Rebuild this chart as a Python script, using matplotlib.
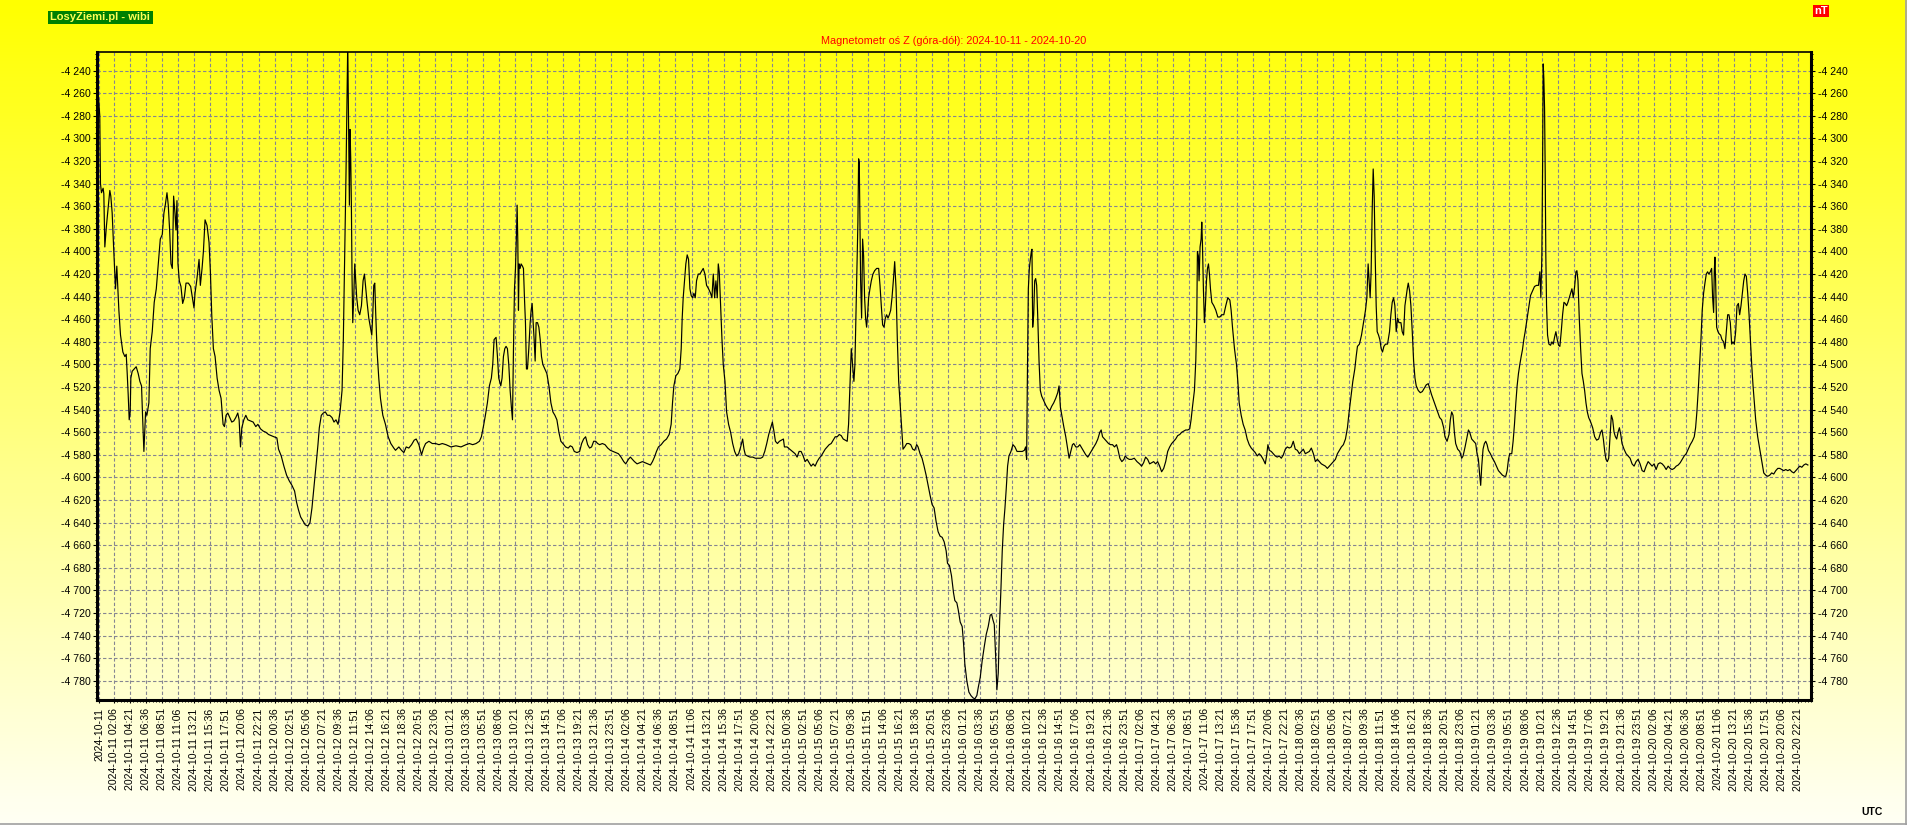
import pandas as pd
import matplotlib
matplotlib.use("Agg")
import matplotlib.pyplot as plt
from matplotlib.patches import Rectangle
from matplotlib.lines import Line2D
from matplotlib.ticker import FixedLocator, MultipleLocator, FuncFormatter
import numpy as np

plt.rcParams["font.family"] = ["Liberation Sans", "DejaVu Sans"]

# time in hours since 2024-10-11 00:00 UTC, Z component in nT
hours = [
    -0.24, 0.08, 0.18, 0.32, 0.55, 0.65, 0.79, 1.02, 1.26, 1.49, 1.63, 1.82, 2.05, 2.29, 2.47, 2.62,
    2.76, 2.99, 3.32, 3.60, 3.79, 3.93, 4.07, 4.21, 4.35, 4.44, 4.63, 4.91, 5.19, 5.47, 5.71, 5.94,
    6.08, 6.27, 6.51, 6.69, 6.97, 7.16, 7.44, 7.72, 8.01, 8.29, 8.57, 8.85, 9.08, 9.27, 9.51, 9.69,
    9.88, 10.07, 10.26, 10.44, 10.63, 10.77, 10.91, 11.05, 11.24, 11.47, 11.71, 11.94, 12.18, 12.51,
    12.83, 13.07, 13.30, 13.44, 13.68, 13.82, 14.01, 14.19, 14.43, 14.62, 14.85, 15.13, 15.41, 15.60,
    15.79, 16.02, 16.26, 16.54, 16.82, 17.10, 17.38, 17.57, 17.80, 18.04, 18.32, 18.60, 18.88, 19.16,
    19.44, 19.63, 19.82, 20.01, 20.29, 20.57, 20.85, 21.22, 21.60, 21.97, 22.26, 22.63, 23.01, 23.38,
    23.76, 24.13, 24.51, 24.93, 25.16, 25.54, 25.91, 26.29, 26.66, 27.04, 27.41, 27.69, 27.97, 28.26,
    28.63, 28.91, 29.29, 29.57, 29.85, 30.13, 30.41, 30.69, 30.88, 31.16, 31.44, 31.72, 32.01, 32.33,
    32.66, 32.94, 33.22, 33.51, 33.79, 34.07, 34.25, 34.44, 34.63, 34.77, 34.87, 34.96, 35.10, 35.19,
    35.29, 35.38, 35.47, 35.57, 35.71, 35.85, 35.99, 36.13, 36.32, 36.55, 36.79, 37.02, 37.21, 37.40,
    37.58, 37.82, 38.05, 38.24, 38.38, 38.52, 38.66, 38.80, 38.99, 39.22, 39.46, 39.79, 40.16, 40.54,
    40.91, 41.33, 41.57, 42.04, 42.41, 42.74, 43.07, 43.44, 43.82, 44.19, 44.47, 44.85, 45.22, 45.51,
    45.79, 46.26, 46.73, 47.20, 47.67, 48.13,
    48.65, 49.35, 50.05, 50.76, 51.46, 51.93, 52.40, 52.87, 53.34, 53.62, 53.90, 54.18, 54.46, 54.74,
    55.02, 55.21, 55.40, 55.68, 55.87, 56.05, 56.34, 56.52, 56.71, 56.90, 57.08, 57.27, 57.46, 57.65,
    57.83, 57.98, 58.12, 58.26, 58.40, 58.54, 58.63, 58.73, 58.82, 58.91, 59.05, 59.19, 59.38, 59.52,
    59.66, 59.80, 59.94, 60.08, 60.27, 60.46, 60.60, 60.74, 60.88, 61.02, 61.16, 61.30, 61.49, 61.68,
    61.87, 62.05, 62.24, 62.52, 62.80, 63.09, 63.37, 63.65, 63.93, 64.21, 64.49, 64.77, 65.05, 65.43,
    65.80, 66.09, 66.37, 66.65, 67.02, 67.40, 67.68, 67.96, 68.24, 68.52, 68.80, 69.08, 69.37, 69.65,
    69.93, 70.21, 70.59, 70.96, 71.34, 71.71, 72.09, 72.46, 72.84, 73.21, 73.59, 73.87, 74.24, 74.52,
    74.80, 75.09, 75.46, 75.84, 76.21, 76.59, 76.96, 77.34, 77.62, 77.90, 78.18, 78.46, 78.84, 79.21,
    79.59, 79.96, 80.24, 80.43, 80.62, 80.90, 81.18, 81.46, 81.65, 81.79, 81.93, 82.12, 82.30, 82.49,
    82.68, 82.87, 83.05, 83.24, 83.43, 83.62, 83.80, 84.04, 84.27, 84.55, 84.74, 84.98, 85.21, 85.49,
    85.77, 85.96, 86.15, 86.34, 86.52, 86.71, 86.85, 86.99, 87.18, 87.37, 87.55, 87.79, 88.02, 88.30,
    88.58, 88.87, 89.15, 89.43, 89.71, 89.99, 90.27, 90.46, 90.65, 90.93, 91.30, 91.68, 92.05, 92.43,
    92.80, 93.08, 93.37, 93.65, 93.93, 94.21, 94.44, 94.68, 94.87, 95.15, 95.43, 95.71, 95.99,
    96.13, 96.50, 96.88, 97.26, 97.63, 97.91, 98.19, 98.47, 98.76, 99.04, 99.32, 99.60, 99.88, 100.16,
    100.44, 100.72, 101.01, 101.29, 101.57, 101.85, 102.13, 102.41, 102.69, 102.97, 103.26, 103.54,
    103.82, 104.10, 104.38, 104.66, 104.94, 105.13, 105.32, 105.51, 105.69, 105.88, 106.02, 106.16,
    106.30, 106.44, 106.54, 106.63, 106.72, 106.82, 106.96, 107.10, 107.24, 107.38, 107.52, 107.66,
    107.80, 107.94, 108.13, 108.32, 108.55, 108.79, 109.07, 109.35, 109.54, 109.72, 109.91, 110.10,
    110.29, 110.47, 110.66, 110.85, 111.04, 111.22, 111.41, 111.60, 111.79, 111.97, 112.16, 112.35,
    112.54, 112.77, 113.01, 113.29, 113.57, 113.85, 114.13, 114.41, 114.69, 114.88, 115.16, 115.44,
    115.72, 116.01, 116.29, 116.57, 116.85, 117.13, 117.41, 117.69, 117.97, 118.26, 118.54, 118.82,
    119.01, 119.29, 119.57, 119.85, 120.04, 120.32, 120.51, 120.79, 121.07, 121.26, 121.44, 121.72,
    122.01, 122.29, 122.57, 122.85, 123.13, 123.32, 123.60, 123.88, 124.16, 124.44, 124.72, 125.00,
    125.19, 125.38, 125.57, 125.76, 125.94, 126.13, 126.32, 126.51, 126.69, 126.88, 127.07, 127.26,
    127.44, 127.63, 127.91, 128.19, 128.47, 128.76, 129.13, 129.50, 129.79, 129.97, 130.11, 130.21,
    130.35, 130.49, 130.63, 130.77, 130.86, 130.96, 131.10, 131.24, 131.38, 131.52, 131.66, 131.85,
    132.03, 132.22, 132.50, 132.79, 133.07, 133.35, 133.63, 133.91, 134.19, 134.47, 134.66, 134.85,
    135.04, 135.32, 135.60, 135.88, 136.07, 136.26, 136.54, 136.72, 137.01, 137.29, 137.57, 137.85,
    138.13, 138.41, 138.69, 138.97, 139.26, 139.54, 139.82, 140.10, 140.38, 140.57, 140.76, 141.04,
    141.32, 141.60, 141.88, 142.16, 142.44, 142.72, 142.91, 143.19, 143.47, 143.76, 143.94, 144.22,
    144.50,
    144.84, 145.21, 145.59, 145.96, 146.24, 146.52, 146.80, 147.09, 147.37, 147.65, 147.93, 148.21,
    148.49, 148.77, 149.05, 149.34, 149.62, 149.90, 150.18, 150.46, 150.74, 151.02, 151.30, 151.59,
    151.87, 152.15, 152.43, 152.71, 152.99, 153.18, 153.37, 153.65, 153.84, 153.98, 154.07, 154.21,
    154.30, 154.44, 154.59, 154.68, 154.77, 154.91, 155.05, 155.19, 155.34, 155.48, 155.62, 155.76,
    155.90, 156.09, 156.37, 156.65, 156.93, 157.21, 157.49, 157.77, 158.05, 158.33, 158.62, 158.80,
    158.99, 159.27, 159.55, 159.74, 159.93, 160.21, 160.49, 160.77, 161.05, 161.34, 161.62, 161.90,
    162.18, 162.46, 162.74, 163.02, 163.30, 163.59, 163.77, 163.96, 164.15, 164.43, 164.71, 164.99,
    165.27, 165.55, 165.84, 166.12, 166.40, 166.68, 166.96, 167.24, 167.52, 167.80, 168.09, 168.37,
    168.65, 168.93, 169.21, 169.49, 169.77, 170.05, 170.34, 170.62, 170.90, 171.18, 171.46, 171.74,
    172.02, 172.30, 172.59, 172.87, 173.15, 173.43, 173.71, 173.99, 174.27, 174.55, 174.84, 175.12,
    175.30, 175.59, 175.87, 176.15, 176.34, 176.52, 176.80, 177.09, 177.37, 177.65, 177.84, 178.02,
    178.16, 178.30, 178.44, 178.58, 178.73, 178.87, 179.01, 179.15, 179.29, 179.48, 179.66, 179.85,
    180.04, 180.23, 180.46, 180.74, 181.02, 181.21, 181.40, 181.59, 181.77, 181.96, 182.15, 182.34,
    182.62, 182.80, 182.99, 183.18, 183.37, 183.51, 183.65, 183.84, 184.02, 184.21, 184.40, 184.59,
    184.77, 185.05, 185.34, 185.62, 185.90, 186.18, 186.46, 186.65, 186.93, 187.21, 187.49, 187.77,
    188.05, 188.33, 188.62, 188.80, 189.09, 189.37, 189.55, 189.74, 189.93, 190.12, 190.30, 190.58,
    190.87, 191.15, 191.34, 191.62, 191.90, 192.09, 192.27, 192.55, 192.84,
    193.11, 193.30, 193.49, 193.67, 193.81, 193.96, 194.14, 194.33, 194.52, 194.71, 194.89, 195.17,
    195.46, 195.74, 196.02, 196.30, 196.58, 196.86, 197.14, 197.33, 197.52, 197.71, 197.89, 198.17,
    198.36, 198.55, 198.74, 198.92, 199.11, 199.30, 199.49, 199.67, 199.86, 200.05, 200.24, 200.42,
    200.61, 200.80, 201.08, 201.36, 201.64, 201.92, 202.11, 202.25, 202.39, 202.49, 202.58, 202.67,
    202.77, 202.86, 202.95, 203.05, 203.19, 203.38, 203.61, 203.80, 203.99, 204.17, 204.36, 204.55,
    204.74, 204.92, 205.11, 205.30, 205.49, 205.67, 205.86, 206.05, 206.24, 206.42, 206.61, 206.80,
    206.99, 207.17, 207.31, 207.46, 207.64, 207.83, 208.02, 208.21, 208.39, 208.58, 208.77, 208.96,
    209.24, 209.52, 209.80, 210.08, 210.36, 210.64, 210.83, 211.02, 211.21, 211.39, 211.58, 211.77,
    211.96, 212.14, 212.33, 212.52, 212.71, 212.89, 213.08, 213.27, 213.46, 213.64, 213.92, 214.21,
    214.49, 214.77, 215.05, 215.33, 215.61, 215.89, 216.17, 216.46, 216.74, 217.02, 217.30, 217.58,
    217.86, 218.14, 218.42, 218.71, 218.99, 219.27, 219.55, 219.83, 220.11, 220.39, 220.67, 220.96,
    221.24, 221.52, 221.80, 222.08, 222.36, 222.64, 222.92, 223.21, 223.49, 223.77, 223.96, 224.14,
    224.33, 224.52, 224.71, 224.89, 225.08, 225.27, 225.46, 225.64, 225.83, 226.02, 226.21, 226.35,
    226.49, 226.58, 226.67, 226.77, 226.91, 227.10, 227.28, 227.47, 227.66, 227.89, 228.08, 228.27,
    228.46, 228.64, 228.83, 229.02, 229.21, 229.39, 229.58, 229.77, 229.96, 230.14, 230.33, 230.52,
    230.71, 230.89, 231.08, 231.27, 231.46, 231.64, 231.83, 232.02, 232.21, 232.39, 232.67, 232.96,
    233.24, 233.52, 233.80, 234.08, 234.36, 234.64, 234.92, 235.21, 235.49, 235.77, 236.05, 236.33,
    236.61, 236.89, 237.17, 237.46, 237.74, 238.02, 238.30, 238.58, 238.86, 239.14, 239.42, 239.71,
]

nt = [
    -4250, -4280, -4340, -4348, -4344, -4349, -4396, -4377, -4361, -4346, -4351, -4366, -4400, -4433, -4413, -4433,
    -4452, -4474, -4489, -4493, -4491, -4508, -4527, -4549, -4542, -4512, -4506, -4504, -4502, -4508, -4515, -4519,
    -4545, -4577, -4542, -4545, -4534, -4486, -4471, -4445, -4433, -4411, -4389, -4385, -4366, -4359, -4348, -4359,
    -4381, -4411, -4415, -4351, -4366, -4381, -4355, -4411, -4426, -4431, -4446, -4441, -4428, -4428,
    -4431, -4441, -4450, -4437, -4426, -4418, -4407, -4430, -4415, -4400, -4372, -4377, -4392, -4418,
    -4456, -4486, -4493, -4512, -4523, -4530, -4553, -4555, -4545, -4543, -4547, -4551, -4550, -4547,
    -4543, -4549, -4573, -4556, -4549, -4545, -4549, -4550, -4551, -4555, -4553, -4557, -4559, -4560,
    -4562, -4563, -4564, -4565, -4575, -4581, -4590, -4598, -4603, -4607, -4612, -4622, -4629, -4635,
    -4639, -4642, -4643, -4640, -4627, -4609, -4590, -4571, -4556, -4545, -4543, -4542, -4545, -4545,
    -4547, -4551, -4549, -4553, -4542, -4523, -4478, -4404, -4329, -4262, -4215, -4273, -4359, -4292,
    -4318, -4359, -4422, -4463, -4441, -4411, -4426, -4441, -4452, -4456, -4448, -4426, -4420, -4433,
    -4445, -4459, -4467, -4474, -4456, -4430, -4428, -4456, -4489, -4512, -4530, -4545, -4553, -4564,
    -4570, -4574, -4576, -4573, -4576, -4578, -4573, -4574, -4571, -4567, -4566, -4571, -4580, -4574,
    -4570, -4568, -4570, -4570, -4571, -4570,
    -4571, -4573, -4572, -4573, -4571, -4570, -4571, -4570, -4568, -4564, -4555, -4545, -4534, -4519,
    -4512, -4500, -4478, -4476, -4493, -4512, -4519, -4512, -4493, -4486, -4484, -4486, -4500, -4523,
    -4538, -4549, -4486, -4433, -4415, -4385, -4359, -4392, -4452, -4411, -4415, -4411, -4413, -4415,
    -4441, -4463, -4504, -4504, -4486, -4463, -4452, -4446, -4463, -4478, -4497, -4463, -4463, -4467,
    -4478, -4493, -4500, -4504, -4508, -4519, -4534, -4542, -4545, -4549, -4560, -4568, -4570, -4573,
    -4574, -4572, -4573, -4577, -4578, -4577, -4570, -4566, -4564, -4571, -4574, -4573, -4568, -4568,
    -4570, -4571, -4570, -4571, -4574, -4576, -4577, -4578, -4579, -4582, -4586, -4588, -4584, -4582,
    -4584, -4586, -4588, -4587, -4586, -4587, -4588, -4589, -4586, -4582, -4577, -4573, -4571, -4568,
    -4566, -4562, -4553, -4534, -4519, -4510, -4508, -4504, -4486, -4459, -4441, -4426, -4411, -4403,
    -4407, -4433, -4439, -4441, -4437, -4441, -4426, -4420, -4420, -4417, -4415, -4420, -4430, -4433,
    -4437, -4441, -4420, -4441, -4426, -4441, -4411, -4418, -4448, -4478, -4500, -4515, -4542, -4553,
    -4560, -4570, -4577, -4581, -4579, -4573, -4566, -4575, -4580, -4581, -4582, -4582, -4583, -4583,
    -4583, -4582, -4577, -4570, -4562, -4556, -4551, -4560, -4568, -4570, -4568, -4567, -4566,
    -4573, -4573, -4575, -4577, -4579, -4582, -4577, -4577, -4581, -4586, -4584, -4587, -4590, -4588,
    -4590, -4586, -4583, -4581, -4578, -4575, -4573, -4571, -4570, -4567, -4564, -4564,
    -4562, -4563, -4566, -4567, -4568, -4553, -4519, -4486, -4500, -4515, -4500, -4459,
    -4422, -4374, -4318, -4321, -4370, -4426, -4459, -4389, -4404, -4441, -4459, -4467,
    -4456, -4441, -4433, -4426, -4420, -4417, -4415, -4415, -4430, -4448, -4465, -4467,
    -4459, -4456, -4459, -4456, -4452, -4441, -4426, -4409, -4433, -4478, -4515, -4534,
    -4553, -4575, -4573, -4570, -4570, -4571, -4575, -4576, -4571, -4573, -4579, -4583,
    -4590, -4598, -4607, -4616, -4624, -4627, -4639, -4648, -4652, -4653, -4657, -4665,
    -4676, -4678, -4687, -4702, -4709, -4711, -4717, -4728, -4732, -4747, -4765, -4780,
    -4790, -4793, -4795, -4796, -4793, -4786, -4777, -4762, -4750, -4739, -4732, -4722,
    -4721, -4726, -4730, -4758, -4788, -4773, -4728, -4698, -4665, -4642, -4627, -4609,
    -4590, -4581, -4577, -4571, -4573, -4577, -4577, -4577, -4576, -4573, -4584, -4515,
    -4433, -4415, -4407, -4400, -4398, -4467, -4456, -4426, -4424, -4430, -4456, -4497,
    -4523, -4528, -4532, -4536, -4539, -4541, -4537, -4534, -4530, -4525, -4519, -4538,
    -4545, -4555, -4564, -4575, -4583, -4578, -4571, -4570, -4573, -4573, -4571, -4574,
    -4577, -4580, -4582, -4579, -4576, -4573, -4570, -4566, -4560, -4558, -4564, -4566,
    -4568, -4570, -4571, -4571, -4573, -4571, -4575, -4583, -4586, -4584, -4581, -4583,
    -4584,
    -4584, -4583, -4586, -4588, -4590, -4587, -4582, -4584, -4588, -4587, -4586, -4588,
    -4586, -4590, -4595, -4592, -4586, -4577, -4573, -4570, -4568, -4566, -4563, -4562,
    -4560, -4559, -4558, -4558, -4557, -4549, -4538, -4523, -4497, -4459, -4400, -4404,
    -4426, -4396, -4389, -4374, -4392, -4433, -4463, -4448, -4426, -4415, -4411, -4420,
    -4433, -4445, -4448, -4452, -4458, -4458, -4456, -4456, -4448, -4441, -4443, -4452,
    -4467, -4486, -4500, -4515, -4534, -4545, -4553, -4558, -4566, -4571, -4574, -4576,
    -4578, -4581, -4579, -4581, -4584, -4588, -4581, -4571, -4576, -4577, -4579, -4581,
    -4582, -4581, -4583, -4580, -4575, -4573, -4574, -4573, -4568, -4575, -4576, -4579,
    -4577, -4575, -4579, -4578, -4577, -4574, -4579, -4586, -4584, -4586, -4588, -4589,
    -4590, -4592, -4590, -4588, -4586, -4584, -4579, -4576, -4573, -4571, -4566, -4556,
    -4545, -4530, -4515, -4504, -4493, -4484, -4482, -4474, -4463, -4452, -4441, -4411,
    -4426, -4441, -4418, -4366, -4327, -4351, -4404, -4448, -4471, -4474, -4478, -4486,
    -4489, -4484, -4482, -4482, -4471, -4456, -4445, -4441, -4448, -4471, -4459, -4463,
    -4463, -4471, -4474, -4448, -4439, -4433, -4428, -4435, -4448, -4471, -4497, -4512,
    -4519, -4523, -4525, -4524, -4521, -4518, -4517, -4521, -4527, -4532, -4537, -4542,
    -4547, -4549, -4556, -4564, -4568, -4562, -4549, -4542, -4545, -4560, -4570, -4575,
    -4577, -4583, -4581, -4573, -4564, -4558, -4560, -4566, -4568,
    -4570, -4579, -4584, -4598, -4607, -4590, -4575, -4570, -4568, -4571, -4576, -4579,
    -4583, -4586, -4590, -4594, -4596, -4598, -4599, -4599, -4594, -4584, -4579, -4579,
    -4568, -4553, -4534, -4519, -4508, -4500, -4493, -4487, -4478, -4471, -4463, -4456,
    -4448, -4439, -4435, -4431, -4430, -4430, -4418, -4441, -4404, -4329, -4234, -4247,
    -4273, -4329, -4404, -4448, -4474, -4482, -4483, -4480, -4482, -4476, -4471, -4478,
    -4483, -4484, -4471, -4456, -4445, -4446, -4448, -4445, -4441, -4437, -4433, -4441,
    -4431, -4418, -4417, -4426, -4459, -4486, -4508, -4515, -4523, -4534, -4542, -4547,
    -4551, -4556, -4564, -4567, -4566, -4560, -4558, -4566, -4577, -4584, -4586, -4583,
    -4564, -4545, -4549, -4560, -4564, -4566, -4560, -4556, -4562, -4570, -4575, -4579,
    -4581, -4583, -4588, -4590, -4586, -4584, -4588, -4594, -4595, -4590, -4586, -4588,
    -4590, -4588, -4593, -4588, -4587, -4588, -4590, -4593, -4590, -4592, -4593, -4592,
    -4590, -4589, -4587, -4584, -4581, -4579, -4575, -4571, -4568, -4564, -4556, -4542,
    -4523, -4500, -4478, -4452, -4437, -4428, -4420, -4418, -4420, -4418, -4415, -4441,
    -4454, -4418, -4405, -4426, -4467, -4471, -4473, -4474, -4478, -4480, -4486, -4471,
    -4456, -4456, -4463, -4482, -4480, -4482, -4471, -4448, -4446, -4456, -4448, -4437,
    -4426, -4420, -4422, -4437, -4456, -4478, -4500, -4519, -4534, -4549, -4564, -4575,
    -4586, -4596, -4598, -4599, -4598, -4596, -4597, -4594, -4592, -4592, -4593, -4594,
    -4593, -4594, -4593, -4595, -4596, -4594, -4592, -4590, -4591, -4589, -4588, -4589,
]

title = "Magnetometr oś Z (góra-dół): 2024-10-11 - 2024-10-20"
first_label = "2024-10-11"
tick_start = "2024-10-11 02:06"
tick_count = 106
y_major = list(range(-4780, -4239, 20))

W, H = 1908, 825
fig = plt.figure(figsize=(W / 100, H / 100), dpi=100)

# yellow -> pale background gradient
bg = fig.add_axes([0, 0, 1, 1], zorder=-10)
grad = np.linspace(0.0, 0.96, 256).reshape(-1, 1)
img = np.dstack([np.ones_like(grad), np.ones_like(grad), grad])
bg.imshow(img, aspect="auto", extent=[0, 1, 0, 1])
bg.set_axis_off()
fig.add_artist(Line2D([0, 1], [1.5 / H, 1.5 / H], color="#a0a0a0", lw=1.2))
fig.add_artist(Line2D([1 - 1.5 / W, 1 - 1.5 / W], [0, 1], color="#a0a0a0", lw=1.2))

left, right, top, bottom = 96.7, 1811.5, 51.5, 700
ax = fig.add_axes([left / W, 1 - bottom / H, (right - left) / W, (bottom - top) / H])
ax.set_facecolor("none")

ax.plot(hours, nt, color="black", lw=0.85, zorder=3)

ax.set_xlim(-0.35, 240.22)
ax.set_ylim(-4797, -4223)

# x ticks every 2h15m
t0 = pd.Timestamp("2024-10-11 00:00")
times = pd.date_range(tick_start, periods=tick_count, freq="135min")
xpos = [0.0] + [(t - t0) / pd.Timedelta(hours=1) for t in times]
xlab = [first_label] + [t.strftime("%Y-%m-%d %H:%M") for t in times]
ax.xaxis.set_major_locator(FixedLocator(xpos))
ax.set_xticklabels(xlab, rotation=90, fontsize=7.6, va="top", ha="center")
ax.xaxis.set_minor_locator(FixedLocator(np.arange(xpos[1], 240.2, 0.45)))

ax.yaxis.set_major_locator(FixedLocator(y_major))
ax.yaxis.set_minor_locator(MultipleLocator(5))
ax.yaxis.set_major_formatter(FuncFormatter(lambda v, p: f"-{int(abs(v)) // 1000} {int(abs(v)) % 1000:03d}"))

ax.tick_params(axis="y", which="major", left=True, right=True, labelleft=True, labelright=True,
               length=3, width=0.8, pad=1.5, labelsize=7.6)
ax.tick_params(axis="y", which="minor", left=True, right=True, length=1.5, width=0.7)
ax.tick_params(axis="x", which="major", length=2, width=0.8, pad=4)
ax.tick_params(axis="x", which="minor", length=1.5, width=0.7)

ax.grid(True, which="major", color="#858592", linestyle=(0, (3, 2)), linewidth=0.8)

for side in ["left", "right", "bottom"]:
    ax.spines[side].set_linewidth(2.2)
ax.spines["top"].set_linewidth(1.2)

fig.text((left + right) / 2 / W, 1 - 40.5 / H, title, color="#ff0000", fontsize=7.8,
         ha="center", va="center")

# site label and unit boxes
fig.add_artist(Rectangle((48 / W, 1 - 24 / H), 105 / W, 13 / H, transform=fig.transFigure,
                         facecolor="#008000", edgecolor="none"))
fig.text(50 / W, 1 - 17.5 / H, "LosyZiemi.pl - wibi", color="#ffff55", fontsize=8,
         fontweight="bold", ha="left", va="center")
fig.add_artist(Rectangle((1813 / W, 1 - 17 / H), 16 / W, 12 / H, transform=fig.transFigure,
                         facecolor="#ff0000", edgecolor="none"))
fig.text(1821 / W, 1 - 11 / H, "nT", color="white", fontsize=8, fontweight="bold",
         ha="center", va="center")
fig.text(1872 / W, 1 - 812 / H, "UTC", color="black", fontsize=7.5, fontweight="bold",
         ha="center", va="center")

fig.savefig("out.png", dpi=100)
